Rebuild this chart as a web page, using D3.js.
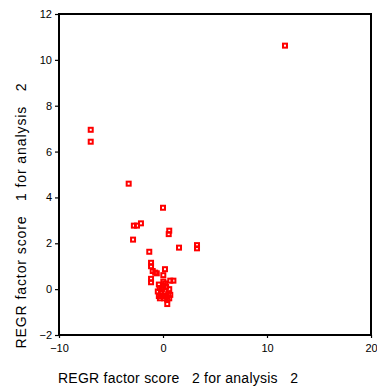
<!DOCTYPE html>
<html><head><meta charset="utf-8">
<script src="https://cdn.jsdelivr.net/npm/d3@7"></script>
<style>body{margin:0;background:#fff}svg{display:block}text{font-family:"Liberation Sans",Arial,sans-serif}</style>
</head><body><svg id="c" width="377" height="391"></svg>
<script>
const xTicks = [-10, 0, 10, 20];
const yTicks = [-2, 0, 2, 4, 6, 8, 10, 12];
const xLabel = "REGR factor score   2 for analysis   2";
const yLabel = "REGR factor score   1 for analysis   2";
const xs = [-6.95,-6.95,11.73,-3.3,0.0,-2.8,-2.5,-2.12,-2.88,0.55,0.6,-1.32,1.54,3.27,3.27,-1.15,-1.15,-0.99,0.19,-0.6,-0.75,0.03,-1.15,-1.15,0.7,1.0,0.03,
  -0.4,-0.3,-0.5,-0.2,0.0,-0.4,0.2,0.3,0.5,0.6,0.4,0.1,-0.1,0.0,0.3,0.6,0.7,0.41,-0.3,0.2];
const ys = [6.95,6.43,10.62,4.6,3.55,2.77,2.77,2.87,2.16,2.4,2.55,1.63,1.81,1.78,1.92,1.0,1.15,0.79,0.87,0.69,0.72,0.61,0.3,0.45,0.37,0.37,0.33,
  0.2,0.05,-0.1,-0.2,-0.3,-0.3,-0.1,0.1,-0.2,-0.4,-0.45,-0.4,0.0,0.15,-0.3,0.0,-0.25,-0.65,-0.4,0.25];

const svg = d3.select("#c");
const L = 59, R = 371, T = 14, B = 335;
const x = d3.scaleLinear().domain([-10, 20]).range([L, R]);
const y = d3.scaleLinear().domain([-2, 12]).range([B, T]);

svg.append("rect").attr("x", L).attr("y", T).attr("width", R - L).attr("height", B - T)
  .attr("fill", "none").attr("stroke", "#000").attr("stroke-width", 2);

const xa = svg.append("g").attr("transform", `translate(0,${B})`)
  .call(d3.axisBottom(x).tickValues(xTicks).tickSize(3).tickPadding(6).tickFormat(d3.format("d")));
const ya = svg.append("g").attr("transform", `translate(${L},0)`)
  .call(d3.axisLeft(y).tickValues(yTicks).tickSize(4).tickPadding(3).tickFormat(d3.format("d")));
[xa, ya].forEach(g => {
  g.select(".domain").remove();
  g.selectAll("line").attr("stroke", "#000").attr("stroke-width", 1.2);
  g.selectAll("text").attr("font-size", 11).attr("fill", "#000").attr("font-family", '"Liberation Sans",Arial,sans-serif');
});

svg.append("text").attr("x", 58).attr("y", 383).attr("font-size", 14)
  .attr("textLength", 240).attr("lengthAdjust", "spacing")
  .style("white-space", "pre").text(xLabel);
svg.append("text").attr("transform", "translate(26,216) rotate(-90)").attr("text-anchor", "middle")
  .attr("font-size", 14).attr("textLength", 265).attr("lengthAdjust", "spacing")
  .style("white-space", "pre").text(yLabel);

const pts = xs.map((v, i) => [v, ys[i]]);
svg.append("g").selectAll("rect").data(pts).join("rect")
  .attr("x", d => x(d[0]) - 2).attr("y", d => y(d[1]) - 2)
  .attr("width", 4).attr("height", 4)
  .attr("fill", "none").attr("stroke", "#f00").attr("stroke-width", 2);
</script></body></html>
